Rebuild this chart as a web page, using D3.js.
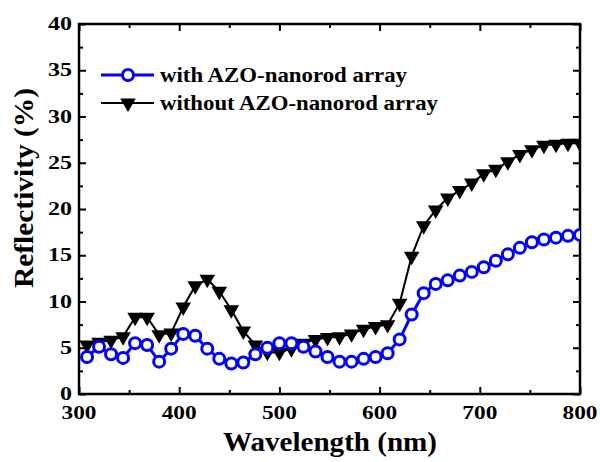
<!DOCTYPE html>
<html>
<head>
<meta charset="utf-8">
<script src="https://cdn.jsdelivr.net/npm/d3@7"></script>
<style>
    body { margin: 0; background: #fff; }
    svg text { font-family: "Liberation Serif", "Times New Roman", serif; font-weight: bold; fill: #000; }
</style>
</head>
<body>
<svg></svg>
<script>
const width = 600, height = 462;

// measured spectra (nm, %)
const wavelength = [308, 320, 332, 344, 356, 368, 380, 392, 404, 416, 428, 440, 452, 464,
    476, 488, 500, 512, 524, 536, 548, 560, 572, 584, 596, 608, 620, 632,
    644, 656, 668, 680, 692, 704, 716, 728, 740, 752, 764, 776, 788, 800];
const withArray = [4.0, 5.1, 4.3, 3.9, 5.5, 5.3, 3.5, 4.9, 6.5, 6.3, 4.9, 3.8, 3.3, 3.4,
    4.3, 5.0, 5.5, 5.5, 5.1, 4.6, 4.0, 3.5, 3.5, 3.8, 4.0, 4.4, 5.9, 8.6,
    10.9, 11.9, 12.3, 12.8, 13.2, 13.7, 14.4, 15.1, 15.8, 16.4, 16.7, 16.9, 17.1, 17.2];
const withoutArray = [5.3, 5.6, 5.8, 6.2, 8.3, 8.3, 6.4, 6.6, 9.4, 11.7, 12.4, 11.1, 9.1, 6.8,
    5.3, 4.5, 4.5, 4.9, 5.5, 5.9, 6.1, 6.2, 6.5, 7.0, 7.3, 7.5, 9.8, 14.9,
    18.2, 19.9, 21.2, 22.0, 22.8, 23.8, 24.3, 25.1, 25.9, 26.4, 26.9, 27.0, 27.1, 27.1];

const xTicks = [300, 400, 500, 600, 700, 800];
const xMinor = [350, 450, 550, 650, 750];
const yTicks = [0, 5, 10, 15, 20, 25, 30, 35, 40];
const yMinor = [2.5, 7.5, 12.5, 17.5, 22.5, 27.5, 32.5, 37.5];
const seriesNames = ["with AZO-nanorod array", "without AZO-nanorod array"];

const x = d3.scaleLinear().domain([300, 800]).range([79, 580]);
const y = d3.scaleLinear().domain([0, 40]).range([394, 24]);

const svg = d3.select('svg').attr('width', width).attr('height', height);

const withPts = wavelength.map((w, i) => ({w: w, v: withArray[i]}));
const withoutPts = wavelength.map((w, i) => ({w: w, v: withoutArray[i]}));

const line = d3.line().x(d => x(d.w)).y(d => y(d.v));
const triangle = d3.symbol().type(d3.symbolTriangle).size(105);

svg.append('clipPath').attr('id', 'plot')
    .append('rect')
    .attr('x', x(300)).attr('y', y(40))
    .attr('width', x(800) - x(300)).attr('height', y(0) - y(40));

drawAxes();
drawSeries();
drawLegend();

function drawAxes() {
    const bottom = (vals, len) => d3.axisBottom(x).tickValues(vals).tickSize(-len).tickFormat('');
    const left = (vals, len) => d3.axisLeft(y).tickValues(vals).tickSize(-len).tickFormat('');

    const axes = [
        [bottom(xTicks, 7), 'translate(0,' + y(0) + ')'],
        [bottom(xMinor, 4), 'translate(0,' + y(0) + ')'],
        [d3.axisTop(x).tickValues(xTicks).tickSize(-7).tickFormat(''), 'translate(0,' + y(40) + ')'],
        [d3.axisTop(x).tickValues(xMinor).tickSize(-4).tickFormat(''), 'translate(0,' + y(40) + ')'],
        [left(yTicks, 7), 'translate(' + x(300) + ',0)'],
        [left(yMinor, 4), 'translate(' + x(300) + ',0)'],
        [d3.axisRight(y).tickValues(yTicks).tickSize(-7).tickFormat(''), 'translate(' + x(800) + ',0)'],
        [d3.axisRight(y).tickValues(yMinor).tickSize(-4).tickFormat(''), 'translate(' + x(800) + ',0)']
    ];
    axes.forEach(function (a) {
        const g = svg.append('g').attr('transform', a[1]).call(a[0]);
        g.select('.domain').remove();
        g.selectAll('line').attr('stroke', '#000').attr('stroke-width', 2);
    });

    svg.append('rect')
        .attr('x', x(300)).attr('y', y(40))
        .attr('width', x(800) - x(300)).attr('height', y(0) - y(40))
        .attr('fill', 'none').attr('stroke', '#000').attr('stroke-width', 2.5);

    svg.selectAll('.xlabel')
        .data(xTicks)
        .enter().append('text')
        .attr('class', 'xlabel')
        .attr('x', d => x(d)).attr('y', 419)
        .attr('text-anchor', 'middle')
        .attr('font-size', 18)
        .attr('textLength', 35).attr('lengthAdjust', 'spacingAndGlyphs')
        .text(d => d);

    svg.selectAll('.ylabel')
        .data(yTicks)
        .enter().append('text')
        .attr('class', 'ylabel')
        .attr('x', 72).attr('y', d => y(d) + 6)
        .attr('text-anchor', 'end')
        .attr('font-size', 18)
        .attr('textLength', d => String(d).length * 12).attr('lengthAdjust', 'spacingAndGlyphs')
        .text(d => d);

    svg.append('text')
        .attr('x', 330).attr('y', 451)
        .attr('text-anchor', 'middle')
        .attr('font-size', 27)
        .attr('textLength', 214).attr('lengthAdjust', 'spacingAndGlyphs')
        .text('Wavelength (nm)');

    svg.append('text')
        .attr('transform', 'translate(33,188) rotate(-90)')
        .attr('text-anchor', 'middle')
        .attr('font-size', 27)
        .attr('textLength', 200).attr('lengthAdjust', 'spacingAndGlyphs')
        .text('Reflectivity (%)');
}

function drawSeries() {
    const g = svg.append('g').attr('clip-path', 'url(#plot)');

    g.append('path')
        .datum(withoutPts)
        .attr('d', line)
        .attr('fill', 'none').attr('stroke', '#000').attr('stroke-width', 2);

    g.selectAll('.tri')
        .data(withoutPts)
        .enter().append('path')
        .attr('class', 'tri')
        .attr('d', triangle)
        .attr('transform', d => 'translate(' + x(d.w) + ',' + y(d.v) + ') rotate(180)')
        .attr('fill', '#000');

    g.append('path')
        .datum(withPts)
        .attr('d', line)
        .attr('fill', 'none').attr('stroke', '#0000ff').attr('stroke-width', 3);

    g.selectAll('.circ')
        .data(withPts)
        .enter().append('circle')
        .attr('class', 'circ')
        .attr('cx', d => x(d.w)).attr('cy', d => y(d.v))
        .attr('r', 5.5)
        .attr('fill', '#fff').attr('stroke', '#0000ff').attr('stroke-width', 3);
}

function drawLegend() {
    const rows = [
        {name: seriesNames[0], color: '#0000ff', width: 3, cy: 75, base: 82, len: 247},
        {name: seriesNames[1], color: '#000', width: 2, cy: 103, base: 110, len: 278}
    ];
    rows.forEach(function (r, i) {
        svg.append('line')
            .attr('x1', 101).attr('x2', 154).attr('y1', r.cy).attr('y2', r.cy)
            .attr('stroke', r.color).attr('stroke-width', r.width);
        if (i === 0) {
            svg.append('circle')
                .attr('cx', 128).attr('cy', r.cy).attr('r', 5.5)
                .attr('fill', '#fff').attr('stroke', r.color).attr('stroke-width', 3);
        } else {
            svg.append('path')
                .attr('d', triangle)
                .attr('transform', 'translate(128,' + r.cy + ') rotate(180)')
                .attr('fill', '#000');
        }
        svg.append('text')
            .attr('x', 160).attr('y', r.base)
            .attr('font-size', 20)
            .attr('textLength', r.len).attr('lengthAdjust', 'spacingAndGlyphs')
            .text(r.name);
    });
}
</script>
</body>
</html>
